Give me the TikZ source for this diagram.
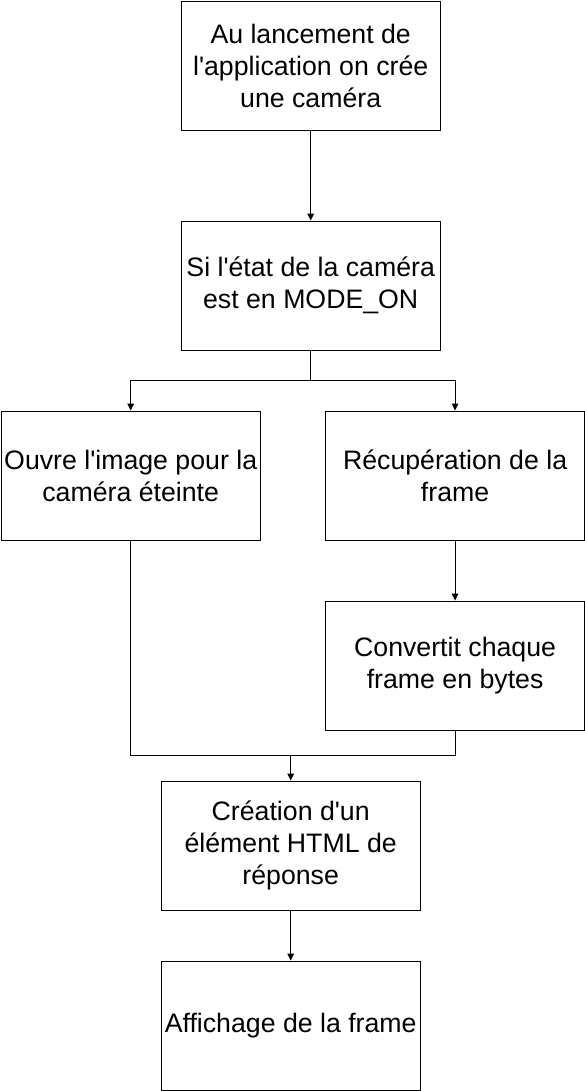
\documentclass[tikz,border=0pt]{standalone}
\usepackage{fontspec}
\setmainfont{Liberation Sans}
\usetikzlibrary{arrows.meta}
\begin{document}
\begin{tikzpicture}[x=1pt,y=-1pt,
  box/.style={draw=black,line width=1.2pt,minimum width=259pt,minimum height=129pt,inner sep=0pt,align=center,font=\fontsize{26.7}{32}\selectfont,anchor=north west,fill=white},
  conn/.style={draw=black,line width=1.2pt},
  arr/.style={conn,-{Triangle[length=7pt,width=6.5pt]}}]
\useasboundingbox[fill=white] (0,0) rectangle (585,1091);
\node[box] (n1) at (180.6,0.6) {Au lancement de\\l\textquotesingle application on crée\\une caméra};
\node[box] (n2) at (180.6,220.6) {Si l\textquotesingle état de la caméra\\est en MODE\_ON};
\node[box] (n3) at (0.6,410.6) {Ouvre l\textquotesingle image pour la\\caméra éteinte};
\node[box] (n4) at (325,410.6) {Récupération de la\\frame};
\node[box] (n5) at (325,600.6) {Convertit chaque\\frame en bytes};
\node[box] (n6) at (160.6,780.6) {Création d\textquotesingle un\\élément HTML de\\réponse};
\node[box] (n7) at (160.6,960.6) {Affichage de la frame};
\coordinate (j1) at (n2.south |- 0,380.5);
\coordinate (j2) at (n6.north |- 0,755.5);
\draw[arr] (n1.south) -- (n2.north);
\draw[arr] (n2.south) -- (j1) -| (n3.north);
\draw[arr] (j1) -| (n4.north);
\draw[arr] (n4.south) -- (n5.north);
\draw[arr] (n3.south) |- (j2) -- (n6.north);
\draw[conn] (n5.south) |- (j2);
\draw[arr] (n6.south) -- (n7.north);
\end{tikzpicture}
\end{document}
